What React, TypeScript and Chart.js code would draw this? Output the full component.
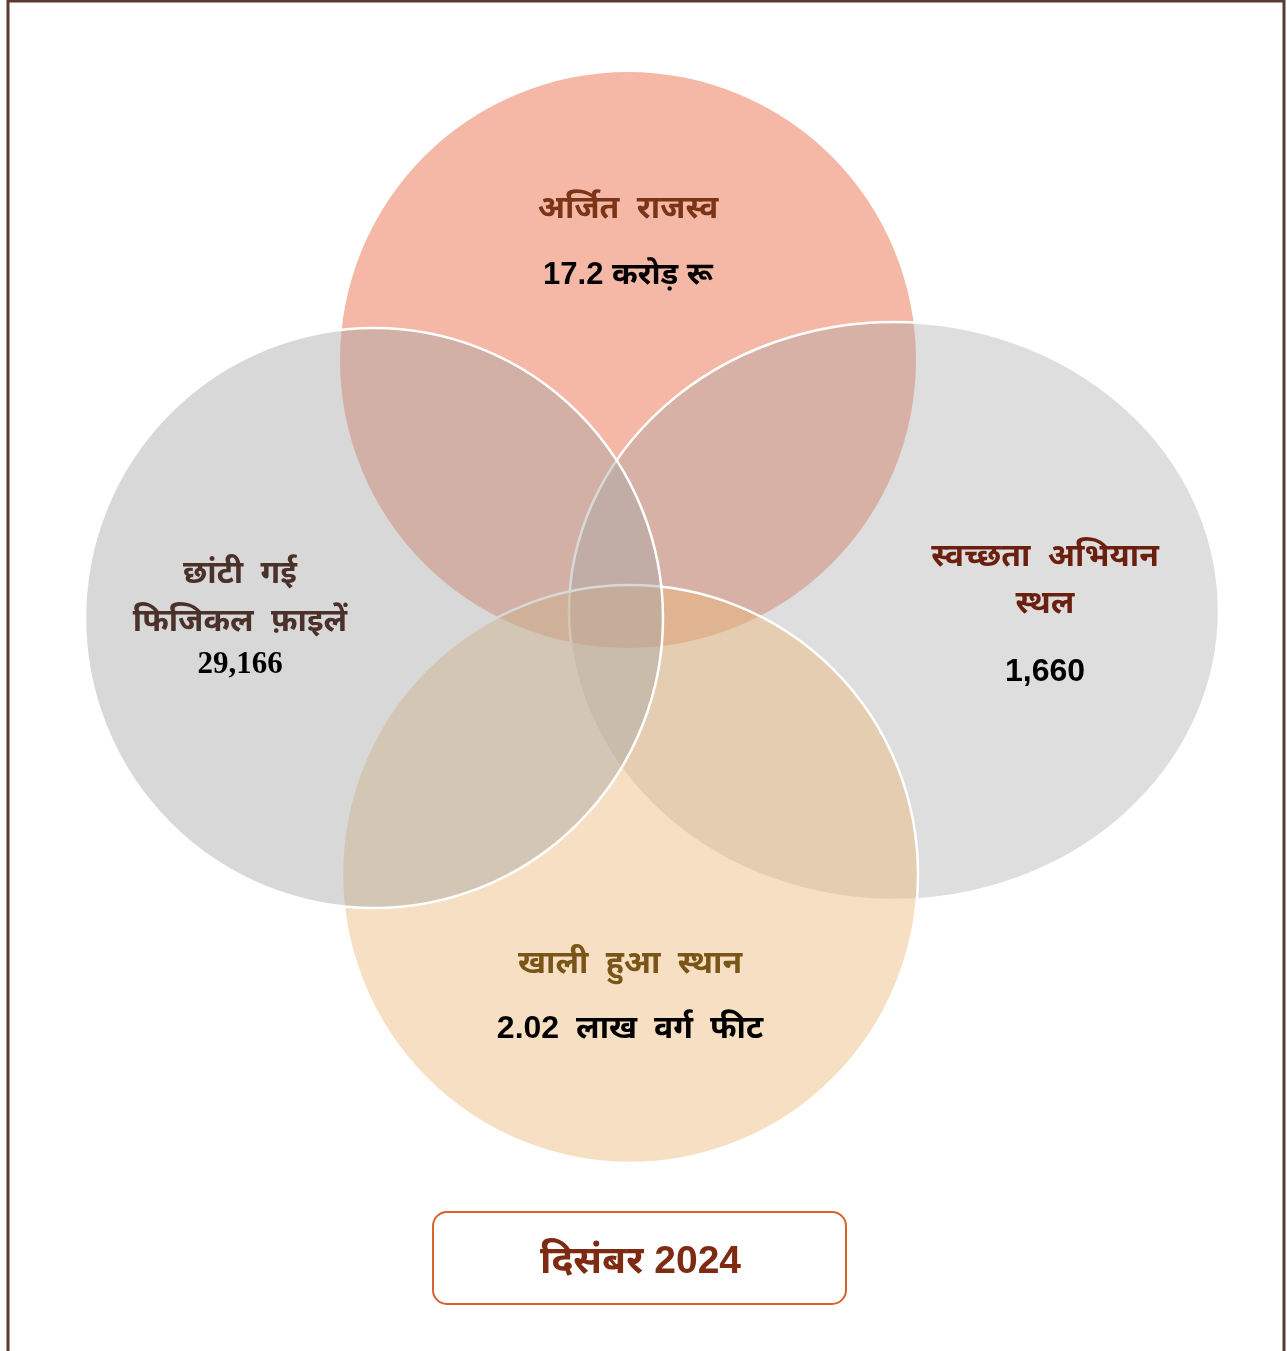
import React, { useEffect, useRef } from 'react';
import { Chart, registerables } from 'chart.js';

Chart.register(...registerables);

const W = 1287;
const H = 1351;

// Venn circles (data units = page pixels on hidden linear axes)
const circleKeys = ['revenue', 'cleanliness', 'space', 'files'];
const centerX = [628, 894, 630, 374];
const centerY = [360, 611, 874, 618];
const radiusX = [288, 325, 288, 289];
const radiusY = [288, 289, 289, 290];

// Titles and values
const titleLines = [
  ['अर्जित राजस्व'],
  ['स्वच्छता अभियान', 'स्थल'],
  ['खाली हुआ स्थान'],
  ['छांटी गई', 'फिजिकल फ़ाइलें'],
];
const valueLabels = ['17.2 करोड़ रू', '1,660', '2.02 लाख वर्ग फीट', '29,166'];
const periodLabel = 'दिसंबर 2024';

// Label anchors
const labelX = [628, 1045, 630, 240];
const titleY = [[212], [560, 607], [967], [577, 625]];
const valueY = [275, 672, 1029, 665];

const fills = [
  'rgba(237,125,95,0.55)',
  'rgba(165,165,165,0.37)',
  'rgba(235,185,120,0.45)',
  'rgba(165,165,165,0.43)',
];
const strokeOn = [false, true, true, true];
const titleColors = ['#7B3416', '#6B1F0E', '#7A5518', '#4A3129'];
const valueFonts = [
  'bold 31px "Liberation Sans", "Noto Sans Devanagari", "Noto Sans", sans-serif',
  '600 32px "Liberation Sans", "Noto Sans", sans-serif',
  'bold 32px "Liberation Sans", "Noto Sans Devanagari", "Noto Sans", sans-serif',
  'bold 31px "Liberation Serif", serif',
];
const valueWordSpacing = ['0px', '0px', '8px', '0px'];
const titleFont = 'bold 32px "Noto Sans Devanagari", "Lohit Devanagari", "Noto Sans", sans-serif';

const vennPlugin = {
  id: 'venn',
  beforeDatasetsDraw(chart: any) {
    const { ctx, scales } = chart;
    const x = scales.x;
    const y = scales.y;
    ctx.save();
    // frame
    ctx.strokeStyle = '#5B3A2E';
    ctx.lineWidth = 3;
    ctx.beginPath();
    ctx.moveTo(8, H + 5);
    ctx.lineTo(8, 1);
    ctx.lineTo(1284, 1);
    ctx.lineTo(1284, H + 5);
    ctx.stroke();

    for (let i = 0; i < circleKeys.length; i++) {
      const cx = x.getPixelForValue(centerX[i]);
      const cy = y.getPixelForValue(centerY[i]);
      const rx = Math.abs(x.getPixelForValue(centerX[i] + radiusX[i]) - cx);
      const ry = Math.abs(y.getPixelForValue(centerY[i] + radiusY[i]) - cy);
      ctx.beginPath();
      ctx.ellipse(cx, cy, rx, ry, 0, 0, Math.PI * 2);
      ctx.fillStyle = fills[i];
      ctx.fill();
      if (strokeOn[i]) {
        ctx.strokeStyle = '#ffffff';
        ctx.lineWidth = 2.5;
        ctx.stroke();
      }
    }
    ctx.restore();
  },
  afterDatasetsDraw(chart: any) {
    const { ctx, scales } = chart;
    const x = scales.x;
    const y = scales.y;
    ctx.save();
    ctx.textAlign = 'center';
    ctx.textBaseline = 'middle';
    for (let i = 0; i < circleKeys.length; i++) {
      const px = x.getPixelForValue(labelX[i]);
      ctx.font = titleFont;
      (ctx as any).wordSpacing = '9px';
      ctx.fillStyle = titleColors[i];
      titleLines[i].forEach((line, j) => {
        ctx.fillText(line, px, y.getPixelForValue(titleY[i][j]));
      });
      ctx.font = valueFonts[i];
      (ctx as any).wordSpacing = valueWordSpacing[i];
      ctx.fillStyle = '#000000';
      ctx.fillText(valueLabels[i], px, y.getPixelForValue(valueY[i]));
    }
    (ctx as any).wordSpacing = '0px';
    // period box
    const bx = x.getPixelForValue(433);
    const by = y.getPixelForValue(1212);
    const bw = x.getPixelForValue(846) - bx;
    const bh = y.getPixelForValue(1304) - by;
    ctx.beginPath();
    ctx.roundRect(bx, by, bw, bh, 14);
    ctx.fillStyle = '#ffffff';
    ctx.fill();
    ctx.strokeStyle = '#D9622B';
    ctx.lineWidth = 2;
    ctx.stroke();
    ctx.font = 'bold 39px "Liberation Sans", "Noto Sans Devanagari", "Noto Sans", sans-serif';
    ctx.fillStyle = '#7F2A12';
    ctx.fillText(periodLabel, bx + bw / 2 + 1, by + bh / 2 + 4);
    ctx.restore();
  },
};

export default function App() {
  const ref = useRef<HTMLCanvasElement | null>(null);
  useEffect(() => {
    document.body.style.margin = '0';
    document.body.style.overflow = 'hidden';
    const canvas = ref.current;
    if (!canvas) return;
    const chart = new Chart(canvas, {
      type: 'scatter',
      data: {
        datasets: [
          {
            label: 'centres',
            data: centerX.map((cx, i) => ({ x: cx, y: centerY[i] })),
            pointRadius: 0,
            pointHoverRadius: 0,
          },
        ],
      },
      options: {
        responsive: false,
        animation: false,
        events: [],
        layout: { padding: 0 },
        plugins: { legend: { display: false }, tooltip: { enabled: false } },
        scales: {
          x: { type: 'linear', min: 0, max: W, display: false },
          y: { type: 'linear', min: 0, max: H, reverse: true, display: false },
        },
      },
      plugins: [vennPlugin],
    });
    return () => chart.destroy();
  }, []);
  return (
    <div style={{ position: 'absolute', left: 0, top: 0, width: W, height: H, background: '#ffffff' }}>
      <canvas ref={ref} width={W} height={H} style={{ display: 'block', width: W, height: H }} />
    </div>
  );
}
